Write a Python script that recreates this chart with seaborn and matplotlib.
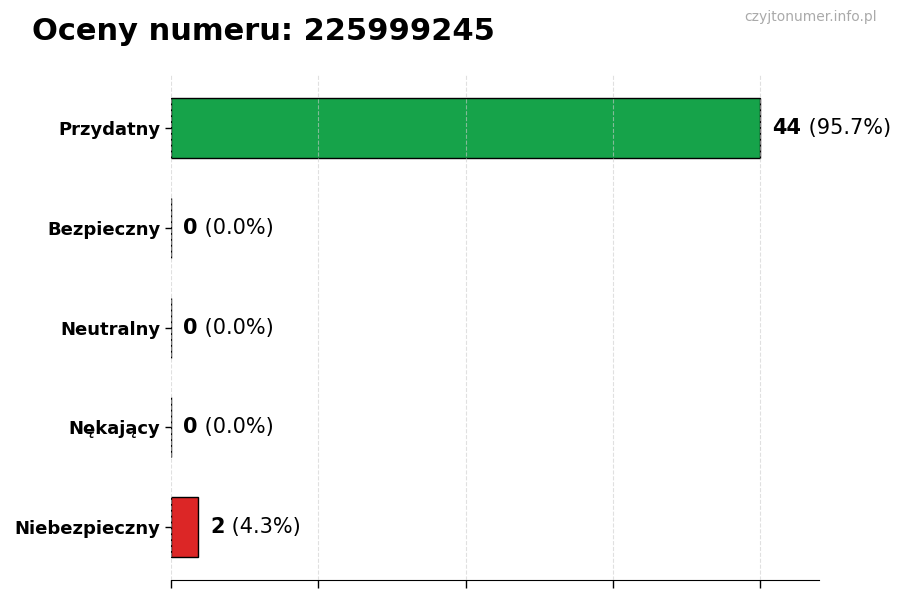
import matplotlib
matplotlib.use("Agg")
import matplotlib.pyplot as plt
import seaborn as sns

# data
categories = ["Przydatny", "Bezpieczny", "Neutralny", "Nękający", "Niebezpieczny"]
counts = [44, 0, 0, 0, 2]
percents = [95.7, 0.0, 0.0, 0.0, 4.3]
colors = ["#16a34a", "#4ade80", "#9ca3af", "#f97316", "#dc2626"]
number = "225999245"

sns.set_style("white")
plt.rcParams['font.family'] = ['DejaVu Sans']
plt.rcParams['text.color'] = 'black'
plt.rcParams['axes.labelcolor'] = 'black'
plt.rcParams['xtick.color'] = 'black'
plt.rcParams['ytick.color'] = 'black'

fig = plt.figure(figsize=(9, 6), dpi=100)
ax = fig.add_axes([0.19, 0.033, 0.72, 0.842])

sns.barplot(x=counts, y=categories, hue=categories, palette=colors, legend=False,
            orient="h", width=0.6, saturation=1, edgecolor="black", linewidth=1, ax=ax)

xmax = max(counts) * 1.1
ax.set_xlim(0, xmax)
ax.set_ylim(4.53, -0.53)
ax.set_xticks([max(counts) * i / 4 for i in range(5)])
ax.set_xticklabels([])
ax.tick_params(axis="x", length=6, width=1, color="black", bottom=True)
ax.tick_params(axis="y", length=4, width=1, color="black", left=True, pad=3.5)
for lbl in ax.get_yticklabels():
    lbl.set_fontweight("bold")
    lbl.set_fontsize(13)
    lbl.set_color("black")
ax.set_xlabel("")
ax.set_ylabel("")
ax.grid(axis="x", linestyle="--", color="#cccccc", linewidth=0.8, alpha=0.6)
ax.grid(axis="y", visible=False)
ax.set_axisbelow(False)
for s in ["top", "right", "left"]:
    ax.spines[s].set_visible(False)
ax.spines["bottom"].set_color("black")

fig.canvas.draw()
for i, (c, p) in enumerate(zip(counts, percents)):
    t1 = ax.annotate(str(c), xy=(c, i), xytext=(9, 0), textcoords="offset points",
                     va="center", ha="left", fontsize=15, fontweight="bold", color="black")
    ax.annotate(f" ({p:.1f}%)", xy=(1, 0), xycoords=t1, va="bottom", ha="left",
                fontsize=15, color="black")

fig.text(0.035, 0.948, f"Oceny numeru: {number}", fontsize=22, fontweight="bold",
         ha="left", va="center", color="black")
fig.text(0.974, 0.971, "czyjtonumer.info.pl", fontsize=10, color="#aaaaaa",
         ha="right", va="center")

fig.savefig("out.png", dpi=100)
